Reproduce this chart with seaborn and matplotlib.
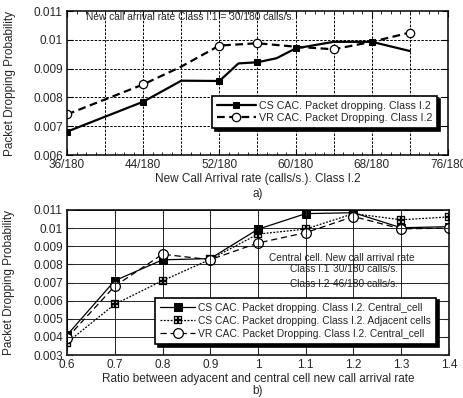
import numpy as np
import matplotlib
matplotlib.use("Agg")
import matplotlib.pyplot as plt
import seaborn as sns

# ---- data: panel a) (x in units of 1/180 calls/s.)
cs_x = [36, 44, 48, 52, 54, 56, 58, 60, 64, 68, 72]
cs_y = [0.00681, 0.00785, 0.00858, 0.00857, 0.00918, 0.00922, 0.00936, 0.0097, 0.00993, 0.00993, 0.00961]
cs_marks = [0, 1, 3, 5, 7, 9]

vr_x = [36, 44, 48, 52, 56, 60, 64, 68, 72]
vr_y = [0.00741, 0.00845, 0.00907, 0.0098, 0.00988, 0.00976, 0.00967, 0.00993, 0.01025]
vr_marks = [0, 1, 3, 4, 6, 8]

a_ticks = [36, 44, 52, 60, 68, 76]

# ---- data: panel b)
ratio = [0.6, 0.7, 0.8, 0.9, 1.0, 1.1, 1.2, 1.3, 1.4]
cs_central = [0.0041, 0.0071, 0.00825, 0.00832, 0.00994, 0.0108, 0.01085, 0.01002, 0.01008]
cs_adjacent = [0.00368, 0.0058, 0.0071, 0.00828, 0.00967, 0.00995, 0.0108, 0.01046, 0.01062]
vr_central = [0.00394, 0.0068, 0.00856, 0.00826, 0.00918, 0.00975, 0.01064, 0.00996, 0.01]

sns.set_style("ticks")
plt.rcParams['font.family'] = ['Liberation Sans', 'DejaVu Sans']
plt.rcParams['mathtext.fontset'] = 'dejavusans'

fig = plt.figure(figsize=(4.63, 3.98), dpi=100)
ax1 = fig.add_axes([67 / 463, 1 - 155 / 398, 381 / 463, 144 / 398])
ax2 = fig.add_axes([67 / 463, 1 - 355 / 398, 382 / 463, 145 / 398])

shadow = {'color': 'black', 'alpha': 1.0}

# ---------------- panel a
sns.lineplot(x=cs_x, y=cs_y, ax=ax1, color='black', lw=1.6, marker='s', ms=5,
             mfc='black', mec='black', markevery=cs_marks, sort=False,
             label='CS CAC. Packet dropping. Class I.2')
sns.lineplot(x=vr_x, y=vr_y, ax=ax1, color='black', lw=1.6, linestyle=(0, (3.5, 2)),
             marker='o', ms=6, mfc='white', mec='black', mew=0.9, markevery=vr_marks,
             sort=False, label='VR CAC. Packet Dropping. Class I.2')

ax1.set_xlim(36, 76)
ax1.set_ylim(0.006, 0.011)
ax1.set_xticks(a_ticks)
ax1.set_xticklabels([f"{t}/180" for t in a_ticks])
ax1.set_xticks(np.arange(36, 77, 1), minor=True)
ax1.set_yticks([0.006, 0.007, 0.008, 0.009, 0.01, 0.011])
ax1.set_yticklabels(['0.006', '0.007', '0.008', '0.009', '0.01', '0.011'])
for v in np.arange(40, 76, 4):
    ax1.axvline(v, color='black', lw=0.7, ls=(0, (2.5, 1.5)), zorder=0)
for v in [0.007, 0.008, 0.009, 0.01]:
    ax1.axhline(v, color='black', lw=0.7, ls=(0, (2.5, 1.5)), zorder=0)
ax1.tick_params(which='both', direction='in', top=True, right=True, labelsize=8.5,
                color='black', pad=3)
ax1.tick_params(which='major', length=4)
ax1.tick_params(which='minor', length=2.5)
ax1.set_xlabel('New Call Arrival rate (calls/s.). Class I.2', fontsize=8.5, labelpad=1)
ax1.set_ylabel('Packet Dropping Probability', fontsize=8.5)
ax1.yaxis.set_label_coords(-0.135, 0.5)
ax1.text(0.05, 0.955, 'New call arrival rate Class I.1 = 30/180 calls/s.',
         transform=ax1.transAxes, fontsize=7.3, va='center', ha='left')
leg1 = ax1.legend(loc='lower right', bbox_to_anchor=(0.985, 0.15), fontsize=7.7,
                  handlelength=3.6, frameon=True, fancybox=False, shadow=shadow,
                  borderpad=0.45, labelspacing=0.25, handletextpad=0.3)
leg1.get_frame().set_edgecolor('black')
leg1.get_frame().set_linewidth(1.2)
leg1.get_frame().set_alpha(1)
ax1.text(0.5, -0.27, 'a)', transform=ax1.transAxes, ha='center', va='center', fontsize=8.5)

# ---------------- panel b
sns.lineplot(x=ratio, y=cs_central, ax=ax2, color='black', lw=0.9, marker='s', ms=5.5,
             mfc='black', mec='black', label='CS CAC. Packet dropping. Class I.2. Central_cell')
sns.lineplot(x=ratio, y=cs_adjacent, ax=ax2, color='black', lw=0.9, linestyle=(0, (1.5, 1.2)),
             marker=r'$\boxplus$', ms=6, mew=0.2, mfc='black', mec='black',
             label='CS CAC. Packet dropping. Class I.2. Adjacent cells')
sns.lineplot(x=ratio, y=vr_central, ax=ax2, color='black', lw=0.9, linestyle=(0, (5, 3)),
             marker='o', ms=7, mfc='white', mec='black', mew=0.9,
             label='VR CAC. Packet Dropping. Class I.2. Central_cell')

ax2.set_xlim(0.6, 1.4)
ax2.set_ylim(0.003, 0.011)
ax2.set_xticks(ratio)
ax2.set_xticklabels(['0.6', '0.7', '0.8', '0.9', '1', '1.1', '1.2', '1.3', '1.4'])
b_yt = [0.003, 0.004, 0.005, 0.006, 0.007, 0.008, 0.009, 0.01, 0.011]
ax2.set_yticks(b_yt)
ax2.set_yticklabels(['0.003', '0.004', '0.005', '0.006', '0.007', '0.008', '0.009', '0.01', '0.011'])
ax2.grid(True, color='black', lw=0.6, ls='-')
ax2.set_axisbelow(False)
ax2.tick_params(direction='in', top=True, right=True, labelsize=8.5, length=4, pad=3)
ax2.set_xlabel('Ratio between adyacent and central cell new call arrival rate',
               fontsize=8.5, labelpad=1)
ax2.set_ylabel('Packet Dropping Probability', fontsize=8.5)
ax2.yaxis.set_label_coords(-0.135, 0.5)
ax2.text(0.529, 0.669, 'Central cell. New call arrival rate', transform=ax2.transAxes,
         fontsize=7.3, va='center')
ax2.text(0.584, 0.593, 'Class I.1', transform=ax2.transAxes, fontsize=7.3, va='center')
ax2.text(0.696, 0.593, '30/180 calls/s.', transform=ax2.transAxes, fontsize=7.3, va='center')
ax2.text(0.584, 0.49, 'Class I.2', transform=ax2.transAxes, fontsize=7.3, va='center')
ax2.text(0.696, 0.49, '46/180 calls/s.', transform=ax2.transAxes, fontsize=7.3, va='center')
leg2 = ax2.legend(loc='lower right', bbox_to_anchor=(0.98, 0.04), fontsize=7.4,
                  handlelength=3.4, frameon=True, fancybox=False, shadow=shadow,
                  borderpad=0.5, labelspacing=0.3, handletextpad=0.3)
leg2.get_frame().set_edgecolor('black')
leg2.get_frame().set_linewidth(1.2)
leg2.get_frame().set_alpha(1)
ax2.text(0.5, -0.245, 'b)', transform=ax2.transAxes, ha='center', va='center', fontsize=8.5)

for ax in (ax1, ax2):
    for s in ax.spines.values():
        s.set_color('black')
        s.set_linewidth(1.1)

fig.savefig('out.png', dpi=100)
